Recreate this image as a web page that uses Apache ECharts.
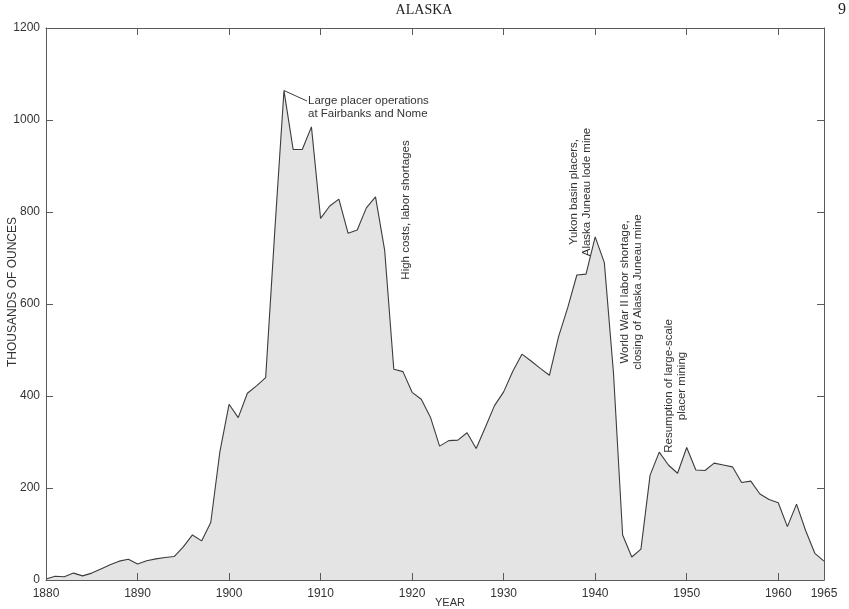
<!DOCTYPE html>
<html>
<head>
<meta charset="utf-8">
<script src="https://cdn.jsdelivr.net/npm/echarts@6/dist/echarts.min.js"></script>
<style>
  html, body { margin: 0; padding: 0; background: #fff; }
  #chart { width: 849px; height: 609px; }
</style>
</head>
<body>
<div id="chart"></div>
<script>
/**
 * Alaska gold production, thousands of ounces, 1880-1965
 */
var years = [];
for (var y = 1880; y <= 1965; y++) years.push(y);

var production = [
  2, 8, 7, 15, 9, 15, 24, 33, 41, 45,            // 1880-1889
  35, 42, 46, 49, 51, 72, 98, 85, 125, 279,      // 1890-1899
  382, 353, 406, 422, 440, 760, 1064, 936, 936, 985, // 1900-1909
  786, 813, 828, 754, 761, 809, 833, 717, 458, 453,  // 1910-1919
  408, 393, 354, 291, 303, 304, 320, 286, 332, 379,  // 1920-1929
  409, 454, 491, 476, 460, 445, 529, 592, 663, 665,  // 1930-1939
  746, 690, 450, 98, 50, 67, 228, 278, 250, 232,     // 1940-1949
  288, 239, 238, 254, 250, 246, 212, 215, 187, 175,  // 1950-1959
  168, 116, 165, 107, 58, 41                         // 1960-1965
];

var yearLabels = [1880, 1890, 1900, 1910, 1920, 1930, 1940, 1950, 1960, 1965];

// annotations: text lines, centre in pixels, rotated or not
var notes = [
  { text: 'Large placer operations\nat Fairbanks and Nome', x: 308, y: 107, rot: 0, align: 'left' },
  { text: 'High costs, labor shortages', x: 406, y: 210, rot: 1 },
  { text: 'Yukon basin placers,\nAlaska Juneau lode mine', x: 580, y: 192, rot: 1 },
  { text: 'World War II labor shortage,\nclosing of Alaska Juneau mine', x: 631, y: 292, rot: 1 },
  { text: 'Resumption of large-scale\nplacer mining', x: 675, y: 386, rot: 1 }
];

var FONT = '"Liberation Sans", Arial, sans-serif';
var AXIS_COLOR = '#5a5a5a';
var TEXT_COLOR = '#333';

var chart = echarts.init(document.getElementById('chart'));

var seriesData = years.map(function (yr, i) { return [yr, production[i]]; });

function frameAxis(extra) {
  var a = {
    type: 'value', z: 10,
    axisLine: { show: true, onZero: false, lineStyle: { color: AXIS_COLOR, width: 1 } },
    axisTick: { show: true, inside: true, length: 7, lineStyle: { color: AXIS_COLOR } },
    axisLabel: { show: false },
    splitLine: { show: false }
  };
  for (var k in extra) a[k] = extra[k];
  return a;
}

var option = {
  backgroundColor: '#fff',
  animation: false,
  grid: { left: 46, right: 25, top: 28, bottom: 29, containLabel: false, outerBoundsMode: 'none' },
  xAxis: [
    frameAxis({
      min: 1880, max: 1965, interval: 10, position: 'bottom',
      name: 'YEAR', nameLocation: 'middle', nameGap: 17, nameMoveOverlap: false,
      nameTextStyle: { fontSize: 11, fontFamily: FONT, color: TEXT_COLOR, padding: [0, 0, 0, 30] }
    }),
    frameAxis({ min: 1880, max: 1965, interval: 10, position: 'top' }),
    // year labels only (adds the 1965 end label)
    {
      type: 'value', min: 1880, max: 1965, interval: 10, position: 'bottom',
      axisLine: { show: false }, axisTick: { show: false }, splitLine: { show: false },
      axisLabel: { show: true, customValues: yearLabels, margin: 8, fontSize: 12,
                   fontFamily: FONT, color: TEXT_COLOR,
                   formatter: function (v) { return String(v); } }
    }
  ],
  yAxis: [
    frameAxis({
      min: 0, max: 1200, interval: 200, position: 'left',
      axisLabel: { show: true, margin: 6, fontSize: 12, fontFamily: FONT, color: TEXT_COLOR,
                   formatter: function (v) { return String(v); } },
      name: 'THOUSANDS OF OUNCES', nameLocation: 'middle', nameGap: 27, nameMoveOverlap: false,
      nameTextStyle: { fontSize: 12, fontFamily: FONT, color: TEXT_COLOR, padding: [0, 0, 0, 24] }
    }),
    frameAxis({ min: 0, max: 1200, interval: 200, position: 'right' })
  ],
  series: [
    {
      type: 'line',
      data: seriesData,
      xAxisIndex: 0, yAxisIndex: 0,
      symbol: 'none',
      lineStyle: { color: '#3c3c3c', width: 1.1 },
      areaStyle: { color: '#e4e4e4', opacity: 1 },
      z: 1
    }
  ]
};

chart.setOption(option);

// leader line from the 1906 peak to its note
var peak = chart.convertToPixel({ xAxisIndex: 0, yAxisIndex: 0 }, [1906, production[26]]);

var graphics = [
  { type: 'text', x: 424, y: 10,
    style: { text: 'ALASKA', font: '14px "Liberation Serif", serif', fill: '#222',
             align: 'center', verticalAlign: 'middle' } },
  { type: 'text', x: 842, y: 10,
    style: { text: '9', font: '16px "Liberation Serif", serif', fill: '#222',
             align: 'center', verticalAlign: 'middle' } },
  { type: 'line', shape: { x1: peak[0], y1: peak[1], x2: 307, y2: 101 },
    style: { stroke: '#3c3c3c', lineWidth: 1 } }
];

notes.forEach(function (n) {
  graphics.push({
    type: 'text', x: n.x, y: n.y,
    rotation: n.rot ? Math.PI / 2 : 0,
    style: {
      text: n.text,
      font: '11.5px ' + FONT,
      fill: TEXT_COLOR,
      lineHeight: 13,
      align: n.align || 'center',
      verticalAlign: 'middle'
    }
  });
});

chart.setOption({ graphic: graphics });
</script>
</body>
</html>
